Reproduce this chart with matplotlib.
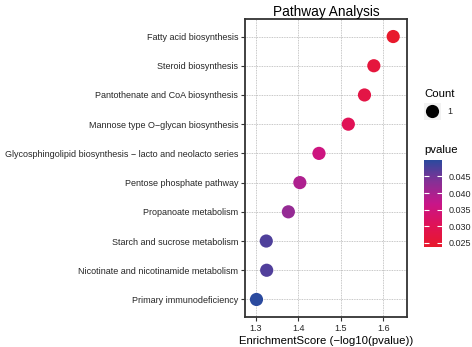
import numpy as np
import matplotlib
matplotlib.use("Agg")
import matplotlib.pyplot as plt
from matplotlib.colors import LinearSegmentedColormap, Normalize

plt.rcParams['font.family'] = ['Liberation Sans', 'DejaVu Sans']

pathways = [
    "Fatty acid biosynthesis",
    "Steroid biosynthesis",
    "Pantothenate and CoA biosynthesis",
    "Mannose type O\u2212glycan biosynthesis",
    "Glycosphingolipid biosynthesis \u2212 lacto and neolacto series",
    "Pentose phosphate pathway",
    "Propanoate metabolism",
    "Starch and sucrose metabolism",
    "Nicotinate and nicotinamide metabolism",
    "Primary immunodeficiency",
]
enrichment = [1.6235, 1.578, 1.556, 1.518, 1.449, 1.404, 1.377, 1.325, 1.326, 1.302]
pvalue = [0.0238, 0.0264, 0.0278, 0.0303, 0.0356, 0.0394, 0.0420, 0.0473, 0.0472, 0.0499]
count = [1, 1, 1, 1, 1, 1, 1, 1, 1, 1]
x_ticks = [1.3, 1.4, 1.5, 1.6]
cbar_ticks = [0.025, 0.030, 0.035, 0.040, 0.045]

cmap = LinearSegmentedColormap.from_list(
    "pv", [(0.0, "#E8192C"), (0.25, "#E01257"), (0.5, "#C8168A"),
           (0.75, "#873096"), (1.0, "#2B4A9E")], N=256)
vmin, vmax = min(pvalue), max(pvalue)
norm = Normalize(vmin=vmin, vmax=vmax)

W, H = 472, 347
fig = plt.figure(figsize=(W / 100, H / 100), dpi=100)
ax = fig.add_axes([245 / W, 1 - 317 / H, 162 / W, 298 / H])

ypos = np.arange(len(pathways))
grid_kw = dict(color="#B4B4B4", lw=0.6, ls=(0, (1.0, 1.0)), zorder=0)
for yy in ypos:
    ax.axhline(yy, **grid_kw)
for xx in x_ticks:
    ax.axvline(xx, **grid_kw)

ax.scatter(enrichment, ypos, s=[90 * c for c in count], c=pvalue,
           cmap=cmap, norm=norm, edgecolors="none", zorder=3)

ax.set_xlim(1.275, 1.656)
ax.set_ylim(len(pathways) - 1 + 0.6, -0.6)
ax.set_yticks(ypos)
ax.set_yticklabels(pathways)
ax.set_xticks(x_ticks)
ax.set_xticklabels([f"{t:.1f}" for t in x_ticks])
ax.tick_params(axis="both", labelsize=6.5, labelcolor="#262626", color="#333333",
               length=3, width=0.8, pad=2)
for sp in ax.spines.values():
    sp.set_color("#333333")
    sp.set_linewidth(1.3)
ax.set_xlabel("EnrichmentScore (\u2212log10(pvalue))", fontsize=8.2, labelpad=2)
ax.set_title("Pathway Analysis", fontsize=9.8, pad=2)

# Count legend
fig.text(424 / W, 1 - 94 / H, "Count", fontsize=8.2, va="center", ha="left")
kax = fig.add_axes([424 / W, 1 - 120 / H, 17 / W, 17 / H])
kax.set_facecolor("#F2F2F2")
kax.scatter([0.5], [0.5], s=90, color="black", edgecolors="none")
kax.set_xlim(0, 1)
kax.set_ylim(0, 1)
kax.set_xticks([])
kax.set_yticks([])
for sp in kax.spines.values():
    sp.set_visible(False)
fig.text(447 / W, 1 - 111.5 / H, "1", fontsize=6.5, va="center", ha="left", color="#262626")

# pvalue colorbar
fig.text(424 / W, 1 - 150 / H, "pvalue", fontsize=8.2, va="center", ha="left")
cax = fig.add_axes([424 / W, 1 - 247 / H, 18 / W, 87 / H])
grad = np.linspace(vmin, vmax, 256).reshape(-1, 1)
cax.imshow(grad, cmap=cmap, norm=norm, aspect="auto", origin="lower",
           extent=[0, 1, vmin, vmax], interpolation="bilinear")
cax.set_xlim(0, 1)
cax.set_ylim(vmin, vmax)
cax.set_xticks([])
cax.set_yticks(cbar_ticks)
cax.set_yticklabels([f"{t:.3f}" for t in cbar_ticks])
cax.yaxis.set_ticks_position("both")
cax.tick_params(axis="y", direction="in", color="white", length=3.5, width=0.8,
                left=True, right=True, labelleft=False, labelright=True,
                labelsize=6.5, labelcolor="#262626", pad=5)
for sp in cax.spines.values():
    sp.set_visible(False)

fig.savefig("out.png", dpi=100, facecolor="white")
